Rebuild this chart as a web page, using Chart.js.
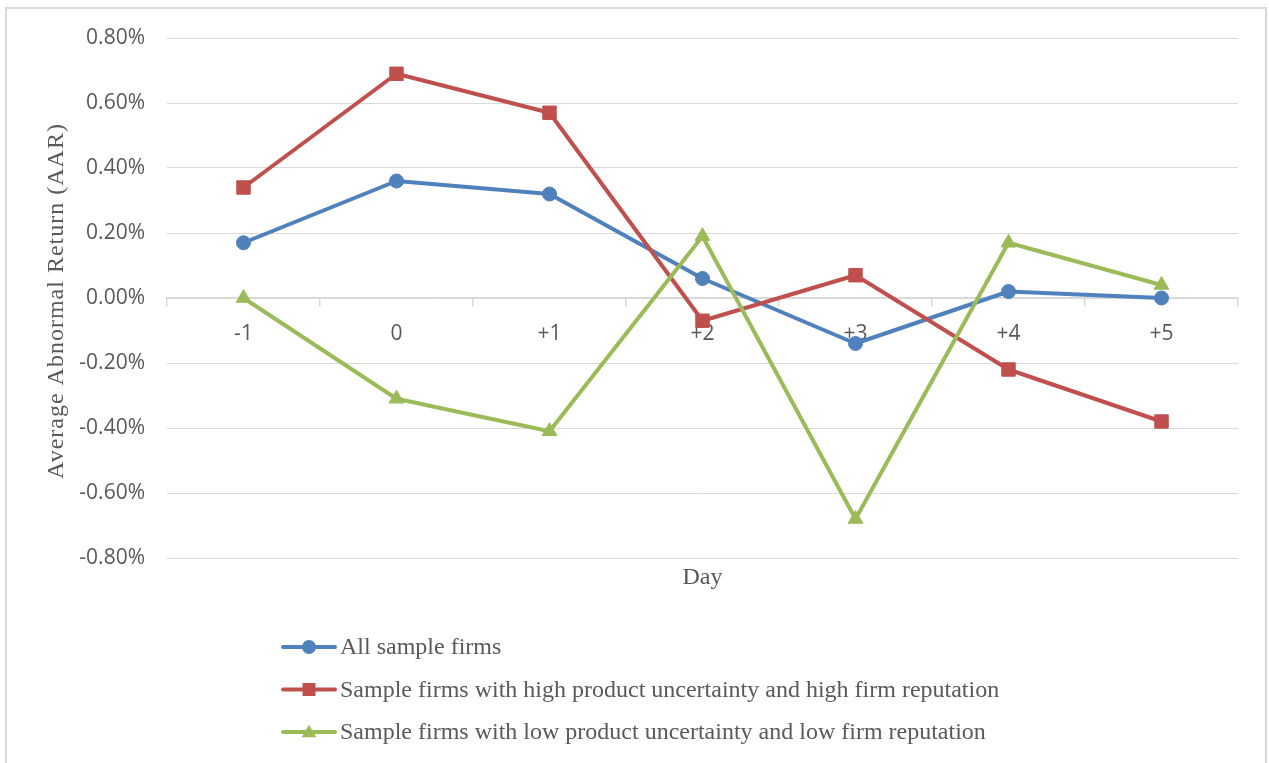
<!DOCTYPE html>
<html>
<head>
<meta charset="utf-8">
<script src="https://cdn.jsdelivr.net/npm/chart.js@4.4.1/dist/chart.umd.min.js"></script>
<style>
  html, body { margin: 0; padding: 0; background: #ffffff; }
  #wrap { width: 1269px; height: 763px; position: relative; }
</style>
</head>
<body>
<div id="wrap"><canvas id="aar" width="1269" height="763"></canvas></div>
<script>
// Event-window days and average abnormal returns (in %)
const days = ['-1', '0', '+1', '+2', '+3', '+4', '+5'];
const allFirms = [0.17, 0.36, 0.32, 0.06, -0.14, 0.02, 0.00];
const highUncertaintyHighRep = [0.34, 0.69, 0.57, -0.07, 0.07, -0.22, -0.38];
const lowUncertaintyLowRep = [0.00, -0.31, -0.41, 0.19, -0.68, 0.17, 0.04];
const seriesNames = [
  'All sample firms',
  'Sample firms with high product uncertainty and high firm reputation',
  'Sample firms with low product uncertainty and low firm reputation'
];
const yMin = -0.8, yMax = 0.8, yStep = 0.2;
const xTitle = 'Day';
const yTitle = 'Average Abnormal Return (AAR)';

const GRID = '#d9d9d9';
const TEXT = '#595959';
const SERIF = '"Liberation Serif", "Times New Roman", serif';
const SANS = '"Open Sans", "Liberation Sans", sans-serif';

function drawMarker(ctx, style, x, y, r, color) {
  ctx.save();
  ctx.fillStyle = color;
  ctx.beginPath();
  if (style === 'circle') {
    ctx.arc(x, y, r, 0, Math.PI * 2);
  } else if (style === 'rect') {
    ctx.rect(x - r, y - r, 2 * r, 2 * r);
  } else {
    ctx.moveTo(x, y - r * 1.05);
    ctx.lineTo(x + r * 1.05, y + r * 0.75);
    ctx.lineTo(x - r * 1.05, y + r * 0.75);
    ctx.closePath();
  }
  ctx.fill();
  ctx.restore();
}

// Frame, axis titles and the stacked legend under the plot
const decorations = {
  id: 'decorations',
  beforeDraw(chart) {
    const ctx = chart.ctx;
    ctx.save();
    ctx.fillStyle = '#ffffff';
    ctx.fillRect(0, 0, chart.width, chart.height);
    ctx.strokeStyle = GRID;
    ctx.lineWidth = 2;
    ctx.beginPath();
    ctx.moveTo(6, chart.height + 5);
    ctx.lineTo(6, 8);
    ctx.lineTo(1266, 8);
    ctx.lineTo(1266, chart.height + 5);
    ctx.stroke();
    ctx.restore();
  },
  afterDraw(chart) {
    const ctx = chart.ctx;
    const area = chart.chartArea;
    ctx.save();
    ctx.fillStyle = TEXT;
    ctx.font = '24px ' + SERIF;
    ctx.textAlign = 'center';
    ctx.textBaseline = 'middle';
    ctx.fillText(xTitle, (area.left + area.right) / 2, 578);

    ctx.save();
    ctx.translate(57, (area.top + area.bottom) / 2 + 3);
    ctx.rotate(-Math.PI / 2);
    ctx.letterSpacing = '1px';
    ctx.fillText(yTitle, 0, 0);
    ctx.restore();

    ctx.textAlign = 'left';
    chart.data.datasets.forEach((ds, i) => {
      const y = 647 + i * 42.5;
      ctx.strokeStyle = ds.borderColor;
      ctx.lineWidth = 4;
      ctx.lineCap = 'round';
      ctx.beginPath();
      ctx.moveTo(283, y);
      ctx.lineTo(335, y);
      ctx.stroke();
      drawMarker(ctx, ds.pointStyle, 309, y, ds.pointStyle === 'rect' ? 6.5 : 7, ds.borderColor);
      ctx.fillStyle = TEXT;
      ctx.fillText(ds.label, 340, y + 1);
    });
    ctx.restore();
  }
};

const series = [
  { label: seriesNames[0], data: allFirms, color: '#4f81bd', style: 'circle', radius: 7, order: 3 },
  { label: seriesNames[1], data: highUncertaintyHighRep, color: '#c0504d', style: 'rect', radius: 9.5, order: 2 },
  { label: seriesNames[2], data: lowUncertaintyLowRep, color: '#9bbb59', style: 'triangle', radius: 8.5, order: 1 }
];

new Chart(document.getElementById('aar'), {
  type: 'line',
  data: {
    labels: days,
    datasets: series.map(s => ({
      label: s.label,
      data: s.data,
      borderColor: s.color,
      backgroundColor: s.color,
      pointBackgroundColor: s.color,
      pointBorderColor: s.color,
      pointBorderWidth: 1,
      pointStyle: s.style,
      pointRadius: s.radius,
      borderWidth: 4,
      borderJoinStyle: 'round',
      borderCapStyle: 'round',
      tension: 0,
      order: s.order
    }))
  },
  options: {
    responsive: false,
    devicePixelRatio: 1,
    animation: false,
    events: [],
    layout: { padding: { left: 0, right: 31, top: 38, bottom: 205 } },
    plugins: { legend: { display: false }, tooltip: { enabled: false }, title: { display: false } },
    scales: {
      x: {
        type: 'category',
        position: { y: 0 },
        offset: true,
        grid: { display: true, drawOnChartArea: false, drawTicks: true, tickLength: 8, offset: true, color: GRID, lineWidth: 1.5 },
        border: { display: true, color: GRID, width: 1.5 },
        ticks: { color: TEXT, font: { family: SANS, size: 21 }, padding: 15, maxRotation: 0, autoSkip: false }
      },
      y: {
        min: yMin,
        max: yMax,
        afterFit(scale) { scale.width = 167; },
        grid: { color: GRID, lineWidth: 1, drawTicks: false },
        border: { display: false },
        ticks: {
          stepSize: yStep,
          color: TEXT,
          padding: 22,
          font: { family: SANS, size: 21 },
          callback: v => (Math.abs(v) < 1e-9 ? 0 : v).toFixed(2) + '%'
        }
      }
    }
  },
  plugins: [decorations]
});
</script>
</body>
</html>
